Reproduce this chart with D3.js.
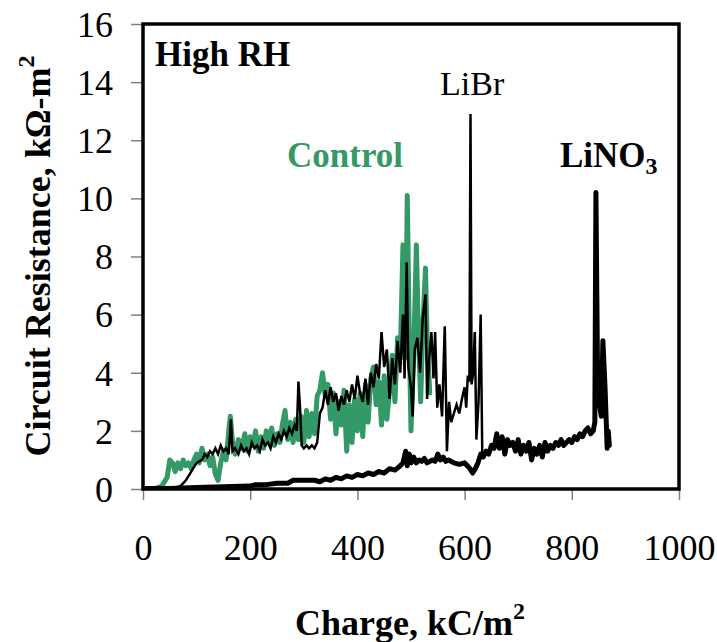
<!DOCTYPE html>
<html>
<head>
<meta charset="utf-8">
<script src="https://cdn.jsdelivr.net/npm/d3@7"></script>
<style>
  html, body { margin: 0; padding: 0; background: #fff; }
  svg { display: block; font-family: "Liberation Serif", "Times New Roman", serif; }
</style>
</head>
<body>
<svg id="chart" width="717" height="642"></svg>
<script>
// ---- data ----
const xTicks = [0, 200, 400, 600, 800, 1000];
const yTicks = [0, 2, 4, 6, 8, 10, 12, 14, 16];

const controlCharge = [0,20,35,45,50,55,60,65,70,75,80,85,90,95,100,105,110,115,120,125,130,135,140,145,150,155,160,163,167,172,178,184,190,195,200,205,210,215,220,225,230,235,240,245,250,255,260,265,270,275,280,285,290,295,300,305,310,315,320,325,330,335,340,345,350,355,360,365,370,375,380,385,390,395,400,405,410,415,420,425,430,435,440,445,450,455,460,465,470,475,480,485,490,493,497,500,505,510,513,518,522,527,530,535];
const controlRes =    [0,0,0.1,0.4,1.0,0.9,0.6,0.9,0.7,1.0,0.8,0.9,0.7,1.0,1.2,0.9,1.4,1.0,1.2,0.8,1.1,0.5,0.3,0.9,1.3,1.0,2.0,2.5,1.6,1.2,1.7,1.4,1.9,1.3,1.8,1.5,2.0,1.3,1.8,1.4,2.0,1.6,2.1,1.5,1.9,1.6,2.2,2.7,1.7,2.3,1.6,2.4,1.7,2.5,1.6,2.7,1.8,2.6,1.9,3.2,3.4,4.0,3.2,3.6,2.4,3.3,1.9,3.0,2.2,3.4,1.3,2.9,1.6,3.1,2.0,3.3,1.8,3.6,2.3,3.8,4.2,2.9,3.7,2.2,3.9,2.4,3.4,4.6,3.0,5.2,4.5,8.4,4.5,10.1,5.0,2.0,4.6,8.4,6.0,3.0,5.5,7.6,5.2,3.3];

const libCharge = [0,30,60,70,80,90,100,110,115,120,125,130,135,140,145,150,155,160,164,167,172,178,183,188,193,198,203,208,213,218,223,228,233,238,243,248,253,258,263,268,273,278,283,287,290,293,296,300,305,310,315,320,325,330,335,340,345,350,355,360,365,370,375,380,385,390,395,400,405,410,415,420,425,430,435,440,445,450,455,460,465,470,475,480,485,488,492,495,500,503,507,512,517,522,527,530,534,538,542,545,549,553,558,563,567,571,575,580,585,590,595,600,603,606,609,611,613,616,619,622,626,630,633];
const libRes =    [0,0,0.05,0.1,0.3,0.6,0.9,1.0,1.2,1.1,1.3,1.2,1.4,1.2,1.5,1.3,1.4,1.2,2.4,1.3,1.4,1.2,1.5,1.3,1.4,1.2,1.6,1.4,1.5,1.3,1.7,1.5,1.6,1.4,1.8,1.6,1.9,1.7,2.0,1.8,2.1,1.9,2.2,2.0,3.7,2.8,1.5,1.4,1.5,1.4,1.5,1.4,1.6,2.6,2.8,3.4,2.9,3.5,3.0,3.3,2.7,3.2,2.9,3.4,3.0,3.6,3.1,3.9,3.3,3.0,3.8,2.9,4.0,3.5,4.3,3.8,5.4,4.2,4.8,3.1,4.5,3.6,5.1,4.0,6.0,3.8,7.8,4.2,3.5,2.5,4.8,5.2,4.0,5.9,6.7,3.1,4.5,5.4,3.8,5.4,2.8,3.6,2.5,5.6,1.3,3.0,2.3,2.6,2.9,2.6,3.1,3.5,2.8,3.9,3.7,12.9,3.6,4.0,5.4,1.7,3.0,6.0,1.2];

const nitCharge = [0,50,100,150,200,210,230,250,270,280,300,320,330,340,350,360,370,380,390,400,410,420,430,440,450,460,470,480,485,490,493,497,500,505,510,515,520,525,530,540,545,550,555,560,565,570,580,590,600,605,610,615,620,625,630,635,640,645,650,655,660,665,670,675,680,685,690,695,700,705,710,715,720,725,730,735,740,745,750,755,760,765,770,775,780,785,790,795,800,805,810,815,820,825,830,835,840,843,845,848,851,855,858,862,866,868,870];
const nitRes =    [0.02,0.02,0.05,0.08,0.1,0.15,0.15,0.2,0.2,0.3,0.3,0.3,0.25,0.35,0.3,0.4,0.35,0.45,0.4,0.5,0.45,0.55,0.5,0.6,0.55,0.7,0.65,0.8,0.9,1.3,0.8,1.2,0.9,1.1,0.9,1.0,0.95,1.05,0.9,1.0,0.95,1.2,1.0,1.1,0.95,1.0,0.9,0.85,0.9,0.8,0.7,0.55,0.7,0.9,1.2,1.1,1.3,1.2,1.5,1.4,1.9,1.4,1.8,1.2,1.7,1.5,1.6,1.3,1.7,1.2,1.5,1.3,1.6,1.0,1.4,1.2,1.5,1.1,1.6,1.3,1.5,1.4,1.6,1.5,1.7,1.5,1.6,1.7,1.6,1.8,1.7,1.9,1.8,2.0,2.1,1.9,2.0,2.3,10.2,4.0,3.0,2.5,5.1,3.5,1.4,2.0,1.5];

const seriesNames = ["Control", "LiBr", "LiNO3"];
// ---- end data ----

const svg = d3.select("#chart");
const mLeft = 143, mRight = 679, mTop = 24, mBottom = 489;
const x = d3.scaleLinear().domain([0, 1000]).range([mLeft, mRight]);
const y = d3.scaleLinear().domain([0, 16]).range([mBottom, mTop]);

const zip = (xs, ys) => xs.map((v, i) => [v, ys[i]]);
const line = d3.line().x(d => x(d[0])).y(d => y(d[1]));

svg.append("clipPath").attr("id", "clip")
  .append("rect").attr("x", mLeft).attr("y", mTop).attr("width", mRight - mLeft).attr("height", mBottom - mTop);

const plot = svg.append("g").attr("clip-path", "url(#clip)");

plot.append("path").datum(zip(controlCharge, controlRes))
  .attr("d", line).attr("fill", "none").attr("stroke", "#339966")
  .attr("stroke-width", 5).attr("stroke-linejoin", "round").attr("stroke-linecap", "round");

plot.append("path").datum(zip(nitCharge, nitRes))
  .attr("d", line).attr("fill", "none").attr("stroke", "#000")
  .attr("stroke-width", 5).attr("stroke-linejoin", "round").attr("stroke-linecap", "round");

plot.append("path").datum(zip(libCharge, libRes))
  .attr("d", line).attr("fill", "none").attr("stroke", "#000")
  .attr("stroke-width", 2.5).attr("stroke-linejoin", "miter").attr("stroke-linecap", "butt");

// axes
const xAxis = d3.axisBottom(x).tickValues(xTicks).tickSize(11).tickPadding(34).tickFormat(d3.format("d"));
const gx = svg.append("g").attr("transform", `translate(0,${mBottom})`).call(xAxis);
gx.select(".domain").remove();
gx.selectAll(".tick line").attr("stroke", "#808080").attr("stroke-width", 1.5);
gx.selectAll(".tick text").attr("font-family", "Liberation Serif").attr("font-size", 36).attr("fill", "#000");

const yAxis = d3.axisLeft(y).tickValues(yTicks).tickSize(12).tickPadding(18).tickFormat(d3.format("d"));
const gy = svg.append("g").attr("transform", `translate(${mLeft},0)`).call(yAxis);
gy.select(".domain").remove();
gy.selectAll(".tick line").attr("stroke", "#808080").attr("stroke-width", 1.5);
gy.selectAll(".tick text").attr("font-family", "Liberation Serif").attr("font-size", 36).attr("fill", "#000").attr("dy", "0.34em");

// frame
svg.append("rect").attr("x", mLeft).attr("y", mTop).attr("width", mRight - mLeft).attr("height", mBottom - mTop)
  .attr("fill", "none").attr("stroke", "#000").attr("stroke-width", 3.5);

// annotations
svg.append("text").attr("x", 155).attr("y", 66).attr("font-size", 35).attr("font-weight", "bold").text("High RH");
svg.append("text").attr("x", 287).attr("y", 167).attr("font-size", 35).attr("font-weight", "bold")
  .attr("fill", "#339966").text(seriesNames[0]);
svg.append("text").attr("x", 440).attr("y", 95).attr("font-size", 34).text(seriesNames[1]);
const t3 = svg.append("text").attr("x", 560).attr("y", 167).attr("font-size", 35).attr("font-weight", "bold");
t3.append("tspan").text("LiNO");
t3.append("tspan").attr("font-size", 24).attr("dy", 7).text("3");

// axis titles
const xt = svg.append("text").attr("x", 410).attr("y", 635).attr("text-anchor", "middle")
  .attr("font-size", 36).attr("font-weight", "bold");
xt.append("tspan").text("Charge, kC/m");
xt.append("tspan").attr("font-size", 24).attr("dy", -16).text("2");

const yt = svg.append("text").attr("transform", "translate(50,256) rotate(-90)").attr("text-anchor", "middle")
  .attr("font-size", 36).attr("font-weight", "bold");
yt.append("tspan").text("Circuit Resistance, kΩ-m");
yt.append("tspan").attr("font-size", 24).attr("dy", -16).text("2");
</script>
</body>
</html>
